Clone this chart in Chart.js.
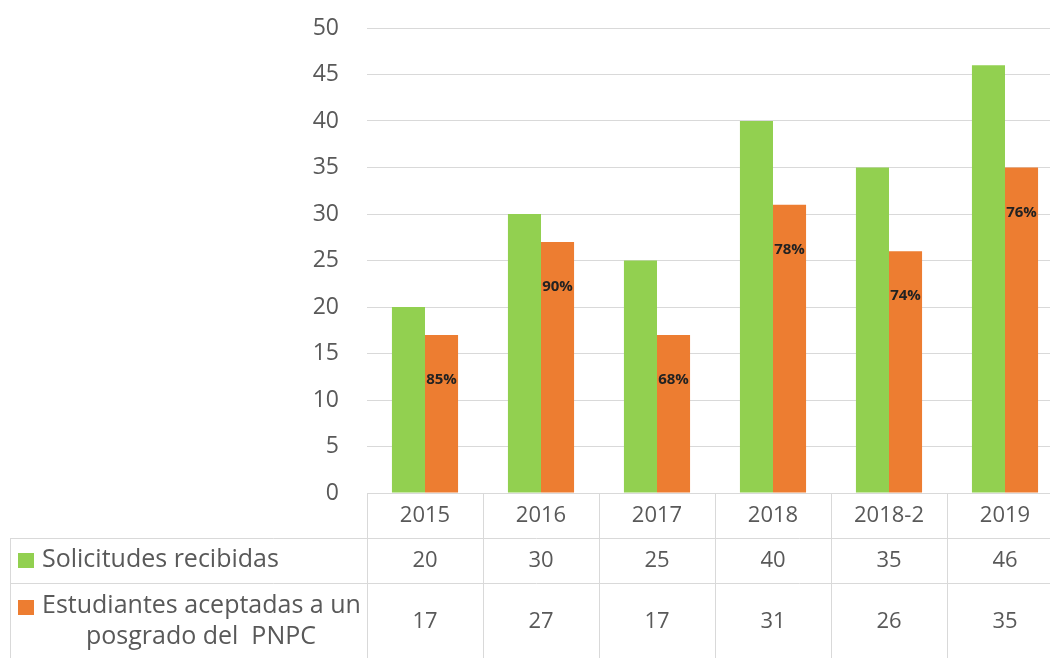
<!DOCTYPE html>
<html lang="es">
<head>
<meta charset="UTF-8">
<title>Solicitudes y estudiantes aceptadas</title>
<script src="https://cdn.jsdelivr.net/npm/chart.js"></script>
<style>
  html, body { margin: 0; padding: 0; background: #fff; overflow: hidden; }
  .chart-box { width: 1070px; height: 658px; }
</style>
</head>
<body>
<div class="chart-box">
  <canvas id="grafica" width="1070" height="658"></canvas>
</div>

<script>
  var periodos = ['2015', '2016', '2017', '2018', '2018-2', '2019'];
  var solicitudes = [20, 30, 25, 40, 35, 46];
  var aceptadas = [17, 27, 17, 31, 26, 35];
  var ticksY = [0, 5, 10, 15, 20, 25, 30, 35, 40, 45, 50];

  var verde = '#92D050';
  var naranja = '#ED7D31';
  var gris = '#595959';
  var linea = '#d9d9d9';
  var fuente = '"Open Sans", Lato, sans-serif';

  // tabla de datos debajo del eje (estilo Excel)
  var tablaDatos = {
    id: 'tablaDatos',
    afterDraw: function (chart) {
      var ctx = chart.ctx;
      var x = chart.scales.x;
      var area = chart.chartArea;
      var paso = x.getPixelForValue(1) - x.getPixelForValue(0);
      var fila0 = area.bottom, fila1 = 538, fila2 = 583, fin = 658;
      var izq = 10;

      ctx.save();
      ctx.strokeStyle = linea;
      ctx.lineWidth = 1;
      ctx.beginPath();
      ctx.moveTo(area.left, fila0 + 0.5); ctx.lineTo(area.right, fila0 + 0.5);
      ctx.moveTo(izq, fila1 + 0.5); ctx.lineTo(area.right, fila1 + 0.5);
      ctx.moveTo(izq, fila2 + 0.5); ctx.lineTo(area.right, fila2 + 0.5);
      ctx.moveTo(izq + 0.5, fila1); ctx.lineTo(izq + 0.5, fin);
      for (var i = 0; i <= periodos.length; i++) {
        var bx = Math.round(x.getPixelForValue(0) - paso / 2 + i * paso) + 0.5;
        ctx.moveTo(bx, fila0); ctx.lineTo(bx, fin);
      }
      ctx.stroke();

      ctx.fillStyle = gris;
      ctx.font = '22px ' + fuente;
      ctx.textAlign = 'center';
      ctx.textBaseline = 'middle';
      periodos.forEach(function (p, i) {
        var cx = x.getPixelForValue(i);
        ctx.fillText(p, cx, 516);
        ctx.fillText(String(solicitudes[i]), cx, 561);
        ctx.fillText(String(aceptadas[i]), cx, 622);
      });

      // etiquetas de filas con su marcador
      ctx.fillStyle = verde;
      ctx.fillRect(18, 553, 16, 15);
      ctx.fillStyle = naranja;
      ctx.fillRect(18, 600, 16, 15);
      ctx.fillStyle = gris;
      ctx.font = '25px ' + fuente;
      ctx.textAlign = 'left';
      ctx.fillText('Solicitudes recibidas', 42, 560);
      ctx.fillText('Estudiantes aceptadas a un', 42, 606);
      ctx.textAlign = 'center';
      ctx.fillText('posgrado del  PNPC', 201, 637);

      // porcentaje de aceptadas sobre las barras naranjas
      var meta = chart.getDatasetMeta(1);
      ctx.fillStyle = '#222';
      ctx.font = 'bold 15px ' + fuente;
      meta.data.forEach(function (bar, i) {
        var pct = Math.round(aceptadas[i] / solicitudes[i] * 100) + '%';
        ctx.fillText(pct, bar.x, bar.y + 45);
      });
      ctx.restore();
    }
  };

  var ctx = document.getElementById('grafica').getContext('2d');
  var grafica = new Chart(ctx, {
    type: 'bar',
    data: {
      labels: periodos,
      datasets: [{
        label: 'Solicitudes recibidas',
        data: solicitudes,
        backgroundColor: verde
      }, {
        label: 'Estudiantes aceptadas a un posgrado del  PNPC',
        data: aceptadas,
        backgroundColor: naranja
      }]
    },
    options: {
      responsive: false,
      animation: false,
      layout: { padding: { top: 28, bottom: 165, right: 7, left: 0 } },
      datasets: { bar: { categoryPercentage: 0.57, barPercentage: 1.0 } },
      plugins: {
        legend: { display: false },
        tooltip: { enabled: false }
      },
      scales: {
        x: { display: false },
        y: {
          min: 0,
          max: 50,
          afterBuildTicks: function (scale) {
            scale.ticks = ticksY.map(function (v) { return { value: v }; });
          },
          afterFit: function (scale) {
            scale.width = 367;
            scale.paddingTop = 0;
            scale.paddingBottom = 0;
          },
          border: { display: false },
          grid: { color: linea, lineWidth: 1, drawTicks: false },
          ticks: {
            color: gris,
            padding: 28,
            font: { family: fuente, size: 23 }
          }
        }
      }
    },
    plugins: [tablaDatos]
  });
</script>
</body>
</html>
